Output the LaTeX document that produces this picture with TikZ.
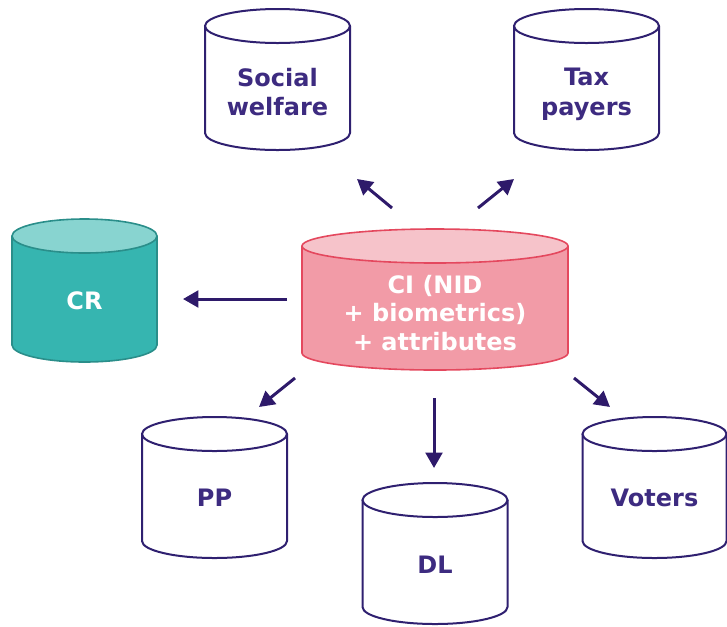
\documentclass[tikz,border=0pt]{standalone}
\usepackage{fontspec}
\newfontfamily\lblfont{DejaVu Sans}
\usetikzlibrary{arrows.meta}
\definecolor{txtpurple}{HTML}{3D2B80}
\definecolor{arrpurple}{HTML}{2E1A6A}
\definecolor{linepurple}{HTML}{2F2070}
\definecolor{crbody}{HTML}{36B5B0}
\definecolor{crtop}{HTML}{88D4D0}
\definecolor{crline}{HTML}{2A8E8A}
\definecolor{cibody}{HTML}{F29BA7}
\definecolor{citop}{HTML}{F6C3CA}
\definecolor{ciline}{HTML}{E4485E}
\newcommand\dbcyl[5]{% cx, ytop, ybottom, width(px), style prefix
  \pgfmathsetmacro\cylRx{#4*0.375}%
  \pgfmathsetmacro\cylL{#1-#4/2}%
  \pgfmathsetmacro\cylR{#1+#4/2}%
  \path[#5 body] (\cylL,#2) -- (\cylL,#3) arc[start angle=180,end angle=360,x radius=\cylRx pt,y radius=12.75pt] -- (\cylR,#2);
  \path[#5 top] (#1,#2) ellipse[x radius=\cylRx pt,y radius=12.75pt];
}
\tikzset{
  plain body/.style={fill=white,draw=linepurple,line width=1.5pt},
  plain top/.style={fill=white,draw=linepurple,line width=1.5pt},
  cr body/.style={fill=crbody,draw=crline,line width=1.2pt},
  cr top/.style={fill=crtop,draw=crline,line width=1.2pt},
  ci body/.style={fill=cibody,draw=ciline,line width=1.2pt},
  ci top/.style={fill=citop,draw=ciline,line width=1.2pt},
  lbl/.style={align=center,inner sep=0pt,text=txtpurple,font=\lblfont\bfseries\fontsize{18}{22}\selectfont},
  wlbl/.style={lbl,text=white},
  arr/.style={draw=arrpurple,line width=2.25pt,-{Triangle[length=11.5pt,width=12.5pt]}}
}
\begin{document}
\begin{tikzpicture}[x=0.75pt,y=-0.75pt]
\useasboundingbox (0,0) rectangle (727,626);
% cylinders
\dbcyl{277.5}{26}{133}{145}{plain}
\dbcyl{586.5}{26}{133}{145}{plain}
\dbcyl{84.5}{236}{345}{145}{cr}
\dbcyl{435}{246}{353}{266}{ci}
\dbcyl{214.5}{434}{541}{145}{plain}
\dbcyl{435}{500}{607}{145}{plain}
\dbcyl{654.5}{434}{541}{144}{plain}
% labels
\node[lbl] (sw) at (277.5,92) {Social\\welfare};
\node[lbl] (tp) at (586.5,94.5) {Tax\\payers};
\node[wlbl] (cr) at (84.5,301) {CR};
\node[wlbl,font=\lblfont\bfseries\fontsize{18}{21.4}\selectfont] (ci) at (435,313) {CI (NID\\+ biometrics)\\+ attributes};
\node[lbl] (pp) at (214.5,498) {PP};
\node[lbl] (dl) at (435,565) {DL};
\node[lbl] (vo) at (654.5,498) {Voters};
% arrow end points
\coordinate (a1s) at (392,208); \coordinate (a1e) at (357,179);
\coordinate (a2s) at (478,208); \coordinate (a2e) at (514,179);
\coordinate (a3s) at (287,299); \coordinate (a3e) at (183,299);
\coordinate (a4s) at (295,378); \coordinate (a4e) at (259,407);
\coordinate (a5s) at (434,398); \coordinate (a5e) at (434,468);
\coordinate (a6s) at (574,378); \coordinate (a6e) at (610,407);
\draw[arr] (a1s) -- (a1e);
\draw[arr] (a2s) -- (a2e);
\draw[arr] (a3s) -- (a3e);
\draw[arr] (a4s) -- (a4e);
\draw[arr] (a5s) -- (a5e);
\draw[arr] (a6s) -- (a6e);
\end{tikzpicture}
\end{document}
